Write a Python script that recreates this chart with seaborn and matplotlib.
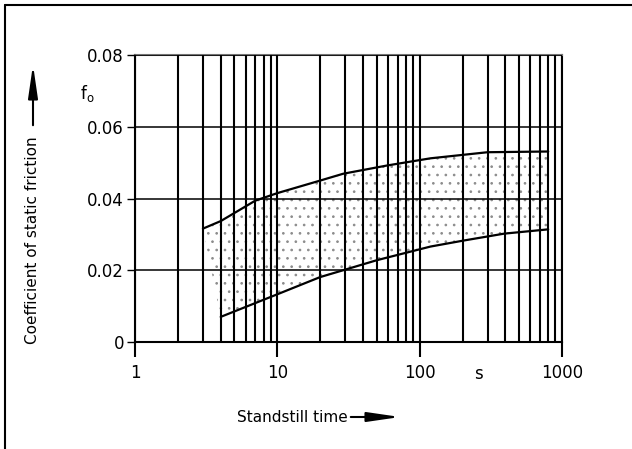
import numpy as np
import pandas as pd
import matplotlib
matplotlib.use("Agg")
import matplotlib.pyplot as plt
from matplotlib.lines import Line2D
import seaborn as sns

# upper limit of the static friction band
upper_t = [3, 4, 7, 10, 20, 29, 59, 119, 205, 300, 800]
upper_f = [0.0316, 0.0337, 0.0394, 0.0415, 0.045, 0.0469, 0.0492, 0.0512, 0.0522, 0.0529, 0.0531]

# lower limit of the band
lower_t = [4, 10, 20, 29, 50, 119, 205, 392, 800]
lower_f = [0.0070, 0.0133, 0.0181, 0.0200, 0.0228, 0.0266, 0.0283, 0.0302, 0.0314]

x_ticks = [1, 10, 100, 1000]
x_tick_labels = ["1", "10", "100", "1000"]
y_ticks = [0, 0.02, 0.04, 0.06, 0.08]
y_tick_labels = ["0", "0.02", "0.04", "0.06", "0.08"]

sns.set_style("white")
plt.rcParams["font.family"] = ["DejaVu Sans"]
plt.rcParams["hatch.linewidth"] = 0.7
plt.rcParams["text.color"] = "black"
plt.rcParams["xtick.color"] = "black"
plt.rcParams["ytick.color"] = "black"

fig = plt.figure(figsize=(6.32, 4.49), dpi=100)
ax = fig.add_axes([135 / 632, 1 - 342 / 449, 427 / 632, 287 / 449])

ax.set_xscale("log")
ax.set_xlim(1, 1000)
ax.set_ylim(0, 0.08)

# dotted band between the two curves
poly_x = upper_t + lower_t[::-1]
poly_y = upper_f + lower_f[::-1]
ax.fill(poly_x, poly_y, facecolor="none", edgecolor="0.55", linewidth=0,
        hatch="..", zorder=1)

up = pd.DataFrame({"t": upper_t, "f": upper_f})
lo = pd.DataFrame({"t": lower_t, "f": lower_f})
sns.lineplot(data=up, x="t", y="f", color="black", linewidth=1.6, ax=ax, zorder=4)
sns.lineplot(data=lo, x="t", y="f", color="black", linewidth=1.6, ax=ax, zorder=4)

# grid: every integer on the log axis, horizontal every 0.02
minor = [m * 10 ** e for e in range(3) for m in range(2, 10)]
ax.set_xticks(minor, minor=True)
ax.tick_params(axis="x", which="minor", length=0, labelbottom=False)
ax.grid(which="both", axis="x", color="black", linewidth=1.5, zorder=2)
ax.grid(which="major", axis="y", color="black", linewidth=1.1, zorder=2)
ax.set_axisbelow(False)

ax.set_xticks(x_ticks)
ax.set_xticklabels(x_tick_labels, fontsize=12)
ax.set_yticks(y_ticks)
ax.set_yticklabels(y_tick_labels, fontsize=12)
ax.tick_params(axis="x", which="major", bottom=True, direction="out", length=11,
               width=1.5, pad=5, labelbottom=True)
ax.tick_params(axis="y", left=True, direction="out", length=6, width=1.0, pad=2)

for s in ["left", "bottom", "right"]:
    ax.spines[s].set_color("black")
    ax.spines[s].set_linewidth(1.5)
ax.spines["top"].set_color("0.45")
ax.spines["top"].set_linewidth(1.5)

ax.set_xlabel("")
ax.set_ylabel("")

# unit and symbol
ax.text(260, -0.0088, "s", fontsize=12, ha="center", va="center")
fig.text(87 / 632, 1 - 93 / 449, r"f$_\mathrm{o}$", fontsize=12, ha="center", va="center")

# axis titles with arrows
fig.text(33 / 632, 1 - 240 / 449, "Coefficient of static friction", fontsize=11,
         rotation=90, ha="center", va="center")
fig.text(292 / 632, 1 - 417 / 449, "Standstill time", fontsize=11,
         ha="center", va="center")
arrow_style = dict(arrowstyle="-|>,head_length=1.1,head_width=0.16",
                   color="black", lw=1.5, mutation_scale=18)
ax.annotate("", xy=(33 / 632, 1 - 62 / 449), xytext=(33 / 632, 1 - 128 / 449),
            xycoords="figure fraction", textcoords="figure fraction",
            arrowprops=arrow_style)
ax.annotate("", xy=(403 / 632, 1 - 417 / 449), xytext=(348 / 632, 1 - 417 / 449),
            xycoords="figure fraction", textcoords="figure fraction",
            arrowprops=arrow_style)

# frame of the scanned figure
fig.add_artist(Line2D([5 / 632, 5 / 632], [0, 1 - 5 / 449], color="black", lw=1.5))
fig.add_artist(Line2D([5 / 632, 1], [1 - 5 / 449, 1 - 5 / 449], color="black", lw=1.5))

fig.savefig("out.png", dpi=100)
